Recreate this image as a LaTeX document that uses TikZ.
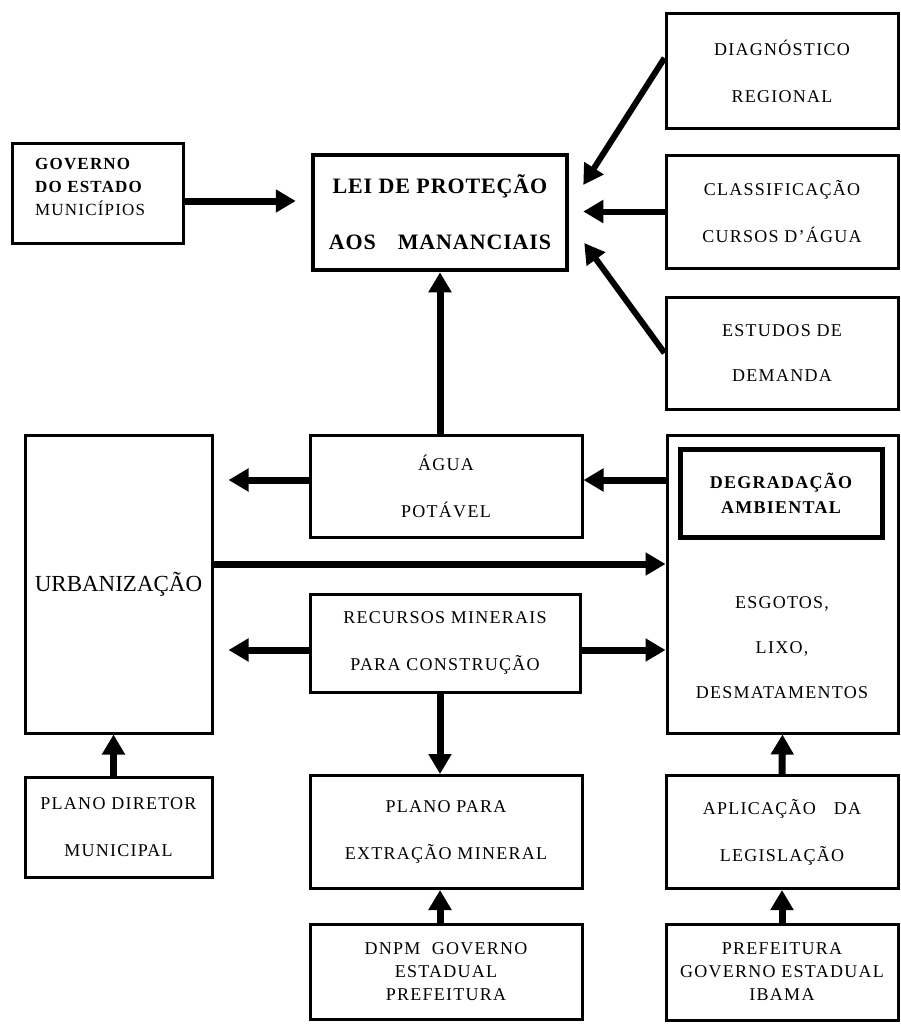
\documentclass[tikz,border=0pt]{standalone}
\usepackage{fontspec}
\setmainfont{Liberation Serif}
\newfontfamily\wide[LetterSpace=7]{Liberation Serif}
\newfontfamily\leifont[LetterSpace=4]{Liberation Serif}
\usetikzlibrary{arrows.meta}
\begin{document}
\begin{tikzpicture}[x=1pt,y=-1pt,
  box/.style={draw, line width=3pt, inner sep=0pt, align=center,
    font=\wide\fontsize{18}{47}\selectfont},
  txt/.style={inner sep=0pt, align=center, font=\wide\fontsize{18}{47}\selectfont},
  arr/.style={line width=7pt, -{Triangle[length=20pt,width=22pt]}},
  darr/.style={line width=6pt, -{Triangle[length=20pt,width=22pt]}},
]
\useasboundingbox (0,0) rectangle (900,1025);
\fill[white] (0,0) rectangle (900,1025);

% top row
\node[box, minimum width=171pt, minimum height=100pt] (gov) at (97.5,193) {};
\node[txt, anchor=west, align=left, font=\wide\fontsize{17}{23}\selectfont] (govtxt) at (35,187)
  {\textbf{GOVERNO}\\\textbf{DO ESTADO}\\MUNIC\'IPIOS};
\node[box, line width=4.5pt, minimum width=254pt, minimum height=115pt,
  font=\leifont\bfseries\fontsize{22}{56}\selectfont] (lei) at (440,212.5)
  {LEI DE PROTEÇÃO\\AOS\quad MANANCIAIS};

\node[box, minimum width=232pt, minimum height=114pt] (diag) at (782,71)
  {DIAGNÓSTICO\\REGIONAL};
\node[box, minimum width=232pt, minimum height=113pt] (class) at (782,211.5)
  {CLASSIFICAÇÃO\\CURSOS D’ÁGUA};
\node[box, minimum width=232pt, minimum height=112pt,
  font=\wide\fontsize{18}{45}\selectfont] (est) at (782,353)
  {ESTUDOS DE\\DEMANDA};

% middle
\node[box, minimum width=187pt, minimum height=298pt,
  font=\fontsize{23}{28}\selectfont] (urb) at (118.5,584) {URBANIZAÇÃO};
\node[box, minimum width=272pt, minimum height=102pt] (agua) at (446,486)
  {ÁGUA\\POTÁVEL};
\node[box, minimum width=231pt, minimum height=298pt] (degr) at (782.5,584) {};
\node[box, line width=5pt, minimum width=202pt, minimum height=88pt,
  font=\wide\bfseries\fontsize{18}{25}\selectfont] (degin) at (781,493)
  {DEGRADAÇÃO\\AMBIENTAL};
\node[txt, font=\wide\fontsize{18}{45}\selectfont] (degtxt) at (782,648)
  {ESGOTOS,\\LIXO,\\DESMATAMENTOS};
\node[box, minimum width=270pt, minimum height=98pt] (rec) at (445,643)
  {RECURSOS MINERAIS\\PARA CONSTRUÇÃO};

% bottom
\node[box, minimum width=187pt, minimum height=100pt] (pdir) at (118.5,827)
  {PLANO DIRETOR\\MUNICIPAL};
\node[box, minimum width=272pt, minimum height=113pt] (ppara) at (446,832)
  {PLANO PARA\\EXTRAÇÃO MINERAL};
\node[box, minimum width=272pt, minimum height=95pt,
  font=\wide\fontsize{18}{23}\selectfont] (dnpm) at (446,972)
  {DNPM\ \ GOVERNO\\ESTADUAL\\PREFEITURA};
\node[box, minimum width=232pt, minimum height=113pt] (aplic) at (782,832)
  {APLICAÇÃO\quad DA\\LEGISLAÇÃO};
\node[box, minimum width=232pt, minimum height=96pt,
  font=\wide\fontsize{18}{23}\selectfont] (pref) at (782,972)
  {PREFEITURA\\GOVERNO ESTADUAL\\IBAMA};

% helper coordinates
\coordinate (gE) at ([yshift=-8pt]gov.east);
\coordinate (aE) at ([yshift=6pt]agua.east);
\coordinate (aW) at ([yshift=6pt]agua.west);
\coordinate (uE) at ([yshift=20pt]urb.east);
\coordinate (rW) at ([yshift=-7pt]rec.west);
\coordinate (rE) at ([yshift=-7pt]rec.east);

% connectors
\draw[arr, shorten >=15pt] (gE) -- (gE -| lei.west);
\draw[darr] ([yshift=13pt]diag.west) -- ([xshift=14pt,yshift=27.5pt]lei.east);
\draw[darr, shorten >=14pt] (class.west) -- (class.west -| lei.east);
\draw[darr] (est.west) -- ([xshift=15pt,yshift=-30.5pt]lei.east);
\draw[arr] (agua.north -| lei.south) -- (lei.south);
\draw[arr] (aE -| degr.west) -- (aE);
\draw[arr, shorten >=15pt] (aW) -- (aW -| urb.east);
\draw[arr] (uE) -- (uE -| degr.west);
\draw[arr, shorten >=15pt] (rW) -- (rW -| urb.east);
\draw[arr] (rE) -- (rE -| degr.west);
\draw[arr] (rec.south -| lei.south) -- (ppara.north -| lei.south);
\draw[arr] (dnpm.north -| lei.south) -- (ppara.south -| lei.south);
\draw[arr] ([xshift=-5pt]pdir.north) -- ([xshift=-5pt]urb.south);
\draw[arr] (aplic.north) -- (degr.south);
\draw[arr] (pref.north) -- (aplic.south);
\end{tikzpicture}
\end{document}
